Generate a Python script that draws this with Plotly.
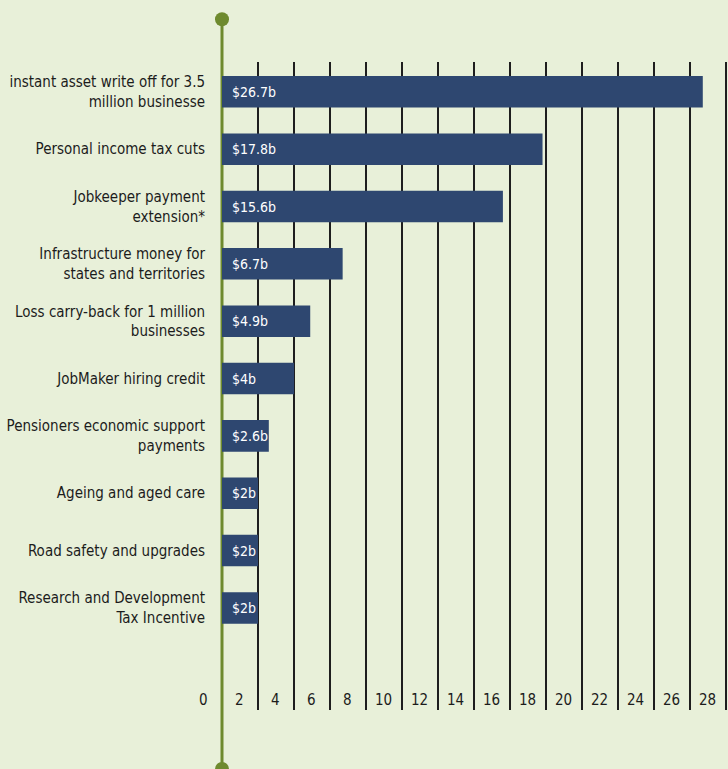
import plotly.graph_objects as go

categories = [
    "instant asset write off for 3.5<br>million businesse",
    "Personal income tax cuts",
    "Jobkeeper payment<br>extension*",
    "Infrastructure money for<br>states and territories",
    "Loss carry-back for 1 million<br>businesses",
    "JobMaker hiring credit",
    "Pensioners economic support<br>payments",
    "Ageing and aged care",
    "Road safety and upgrades",
    "Research and Development<br>Tax Incentive",
]
values = [26.7, 17.8, 15.6, 6.7, 4.9, 4, 2.6, 2, 2, 2]
value_labels = ["$26.7b", "$17.8b", "$15.6b", "$6.7b", "$4.9b", "$4b", "$2.6b", "$2b", "$2b", "$2b"]
x_ticks = list(range(0, 29, 2))
x_tick_labels = [str(v) for v in x_ticks]

BG = "#e8f0d9"
BAR = "#2e4770"
GREEN = "#6e8a2e"
TEXT = "#1c1c1c"
FONT = "Liberation Sans Narrow, DejaVu Sans Condensed, sans-serif"

fig = go.Figure()
fig.add_trace(go.Bar(
    x=values, y=categories, orientation="h",
    marker=dict(color=BAR, line=dict(width=0)),
    hoverinfo="skip",
))

annotations = []
for c, lab in zip(categories, value_labels):
    annotations.append(dict(
        x=0, y=c, xref="x", yref="y", text=lab, showarrow=False,
        xanchor="left", yanchor="middle", xshift=8,
        font=dict(family=FONT, size=14, color="white"),
    ))
for v, lab in zip(x_ticks, x_tick_labels):
    annotations.append(dict(
        x=v, y=0, xref="x", yref="paper", text=lab, showarrow=False,
        xanchor="center", yanchor="bottom", xshift=-19, yshift=-1,
        font=dict(family=FONT, size=15, color=TEXT),
    ))

shapes = [
    dict(type="line", xref="paper", yref="paper", x0=0, x1=0, y0=-0.2, y1=1.066,
         line=dict(color=GREEN, width=3), layer="below"),
    dict(type="circle", xref="paper", yref="paper", xsizemode="pixel", ysizemode="pixel",
         xanchor=0, yanchor=1.066, x0=-7, x1=7, y0=-7, y1=7,
         fillcolor=GREEN, line=dict(width=0), layer="below"),
    dict(type="circle", xref="paper", yref="paper", xsizemode="pixel", ysizemode="pixel",
         xanchor=0, yanchor=-0.091, x0=-7, x1=7, y0=-7, y1=7,
         fillcolor=GREEN, line=dict(width=0), layer="below"),
]

fig.update_layout(
    width=728, height=769,
    margin=dict(l=222, r=0, t=62, b=59),
    paper_bgcolor=BG, plot_bgcolor=BG,
    bargap=0.45,
    showlegend=False,
    annotations=annotations,
    shapes=shapes,
    font=dict(family=FONT, size=15, color=TEXT),
    xaxis=dict(
        range=[0, 28.1], tickvals=x_ticks[1:], showticklabels=False,
        showgrid=True, gridcolor="#1e1e1e", gridwidth=2,
        zeroline=False, showline=False, ticks="",
    ),
    yaxis=dict(
        type="category", categoryorder="array", categoryarray=categories,
        range=[10.78, -0.52], showgrid=False, zeroline=False, showline=False,
        ticks="", ticklabelstandoff=16,
        tickfont=dict(family=FONT, size=15, color=TEXT),
    ),
)

fig.write_html(
    "out.html",
    config={"displayModeBar": False},
    post_script="document.body.style.margin='0';document.body.style.overflow='hidden';document.body.style.background='" + BG + "';",
)
